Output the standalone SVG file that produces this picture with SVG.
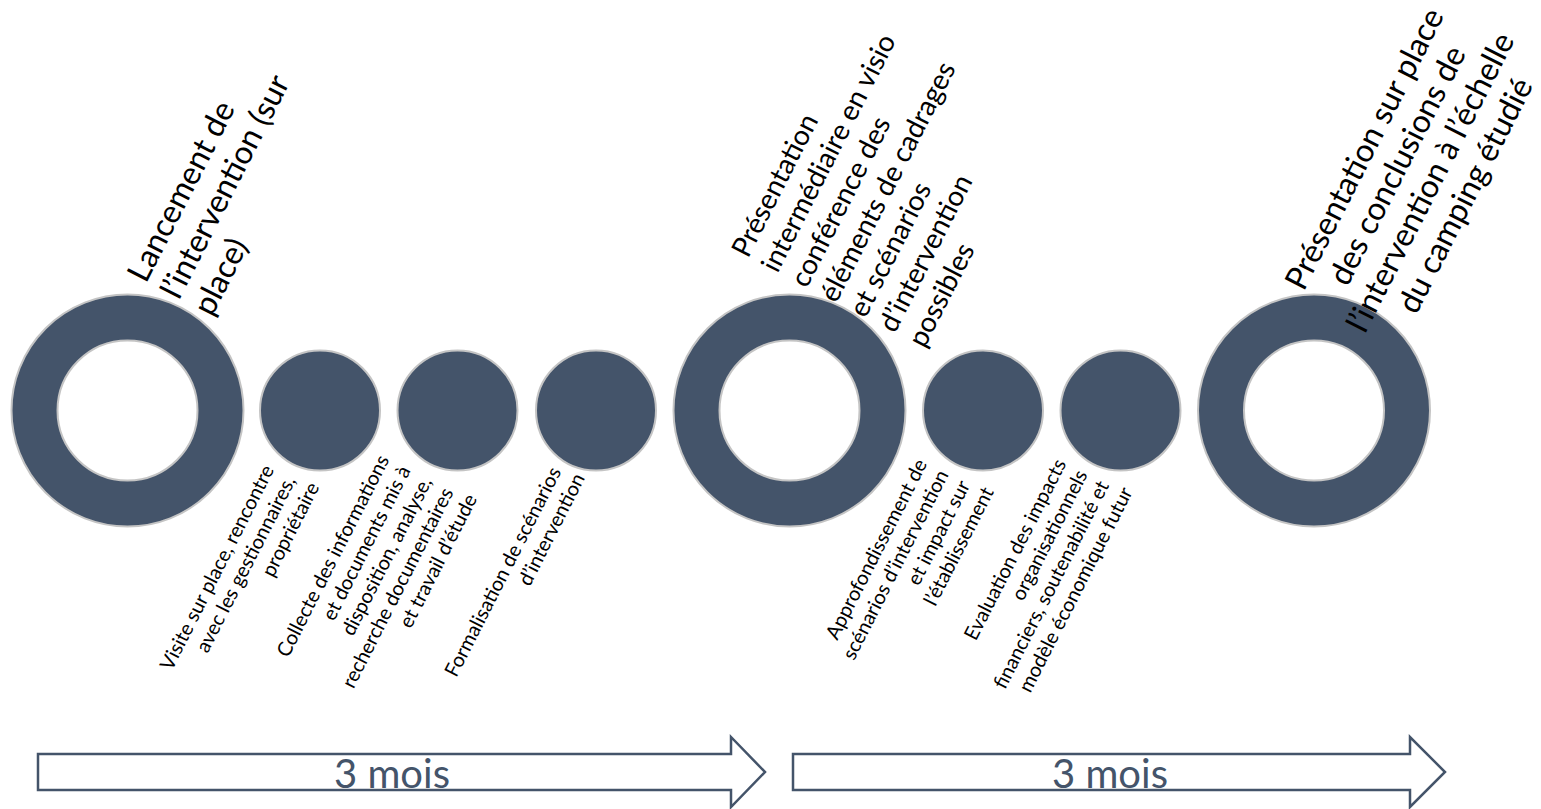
<svg xmlns="http://www.w3.org/2000/svg" width="1541" height="809" viewBox="0 0 1541 809">
  <style>
    .ring { fill: #44546A; fill-rule: evenodd; stroke: #C4C4C4; stroke-width: 2; }
    .dot { fill: #44546A; stroke: #C4C4C4; stroke-width: 2; }
    .big { font-family: Lato, "Liberation Sans", sans-serif; font-size: 32px; fill: #000; }
    .mid { font-family: Lato, "Liberation Sans", sans-serif; font-size: 28px; fill: #000; }
    .small { font-family: Lato, "Liberation Sans", sans-serif; font-size: 20px; fill: #000; text-anchor: end; }
    .arrow { fill: #FFFFFF; stroke: #44546A; stroke-width: 2.5; stroke-linejoin: miter; }
    .period { font-family: Lato, "Liberation Sans", sans-serif; font-size: 40px; fill: #44546A; text-anchor: middle; }
  </style>

  <g id="connectors">
    <path class="arrow" d="M38,754 H731 V737 L765,772 L731,807 V790 H38 Z"/>
    <path class="arrow" d="M793,754 H1410 V737 L1445,772 L1410,807 V790 H793 Z"/>
    <text class="period" x="392" y="788">3 mois</text>
    <text class="period" x="1110" y="788">3 mois</text>
  </g>

  <g id="node-lancement">
    <path class="ring" d="M11.5,410.5 a116,116 0 1,0 232,0 a116,116 0 1,0 -232,0 Z M57.5,410.5 a70,70 0 1,0 140,0 a70,70 0 1,0 -140,0 Z"/>
    <text class="big" transform="translate(146,284) rotate(-63)">
      <tspan x="0" y="0">Lancement de</tspan>
      <tspan x="0" dy="37">l’intervention (sur</tspan>
      <tspan x="0" dy="37">place)</tspan>
    </text>
  </g>

  <g id="node-visite">
    <circle class="dot" cx="320" cy="410.5" r="60"/>
    <text class="small" transform="translate(277,465) rotate(-63)">
      <tspan x="0" y="0">Visite sur place, rencontre</tspan>
      <tspan x="0" dy="24">avec les gestionnaires,</tspan>
      <tspan x="0" dy="24">propriétaire</tspan>
    </text>
  </g>

  <g id="node-collecte">
    <circle class="dot" cx="457.5" cy="410.5" r="60"/>
    <text class="small" transform="translate(392,455) rotate(-63)">
      <tspan x="0" y="0">Collecte des informations</tspan>
      <tspan x="0" dy="24">et documents mis à</tspan>
      <tspan x="0" dy="24">disposition, analyse,</tspan>
      <tspan x="0" dy="24">recherche documentaires</tspan>
      <tspan x="0" dy="24">et travail d’étude</tspan>
    </text>
  </g>

  <g id="node-formalisation">
    <circle class="dot" cx="596" cy="410.5" r="60"/>
    <text class="small" transform="translate(564,467) rotate(-63)">
      <tspan x="0" y="0">Formalisation de scénarios</tspan>
      <tspan x="0" dy="24">d’intervention</tspan>
    </text>
  </g>

  <g id="node-presentation-intermediaire">
    <path class="ring" d="M673.5,410.5 a116,116 0 1,0 232,0 a116,116 0 1,0 -232,0 Z M719.5,410.5 a70,70 0 1,0 140,0 a70,70 0 1,0 -140,0 Z"/>
    <text class="mid" transform="translate(748,259) rotate(-63)">
      <tspan x="0" y="0">Présentation</tspan>
      <tspan x="0" dy="33">intermédiaire en visio</tspan>
      <tspan x="0" dy="33">conférence des</tspan>
      <tspan x="0" dy="33">éléments de cadrages</tspan>
      <tspan x="0" dy="33">et scénarios</tspan>
      <tspan x="0" dy="33">d’intervention</tspan>
      <tspan x="0" dy="33">possibles</tspan>
    </text>
  </g>

  <g id="node-approfondissement">
    <circle class="dot" cx="983" cy="410.5" r="60"/>
    <text class="small" transform="translate(930,459) rotate(-63)">
      <tspan x="0" y="0">Approfondissement de</tspan>
      <tspan x="0" dy="24">scénarios d’intervention</tspan>
      <tspan x="0" dy="24">et impact sur</tspan>
      <tspan x="0" dy="24">l’établissement</tspan>
    </text>
  </g>

  <g id="node-evaluation">
    <circle class="dot" cx="1120.5" cy="410.5" r="60"/>
    <text class="small" transform="translate(1069,459) rotate(-63)">
      <tspan x="0" y="0">Evaluation des impacts</tspan>
      <tspan x="0" dy="24">organisationnels</tspan>
      <tspan x="0" dy="24">financiers, soutenabilité et</tspan>
      <tspan x="0" dy="24">modèle économique futur</tspan>
    </text>
  </g>

  <g id="node-presentation-finale">
    <path class="ring" d="M1198,410.5 a116,116 0 1,0 232,0 a116,116 0 1,0 -232,0 Z M1244,410.5 a70,70 0 1,0 140,0 a70,70 0 1,0 -140,0 Z"/>
    <text class="big" transform="translate(1376,150) rotate(-63)" text-anchor="middle">
      <tspan x="0" y="0">Présentation sur place</tspan>
      <tspan x="0" dy="37">des conclusions de</tspan>
      <tspan x="0" dy="37">l’intervention à l’échelle</tspan>
      <tspan x="0" dy="37">du camping étudié</tspan>
    </text>
  </g>
</svg>
